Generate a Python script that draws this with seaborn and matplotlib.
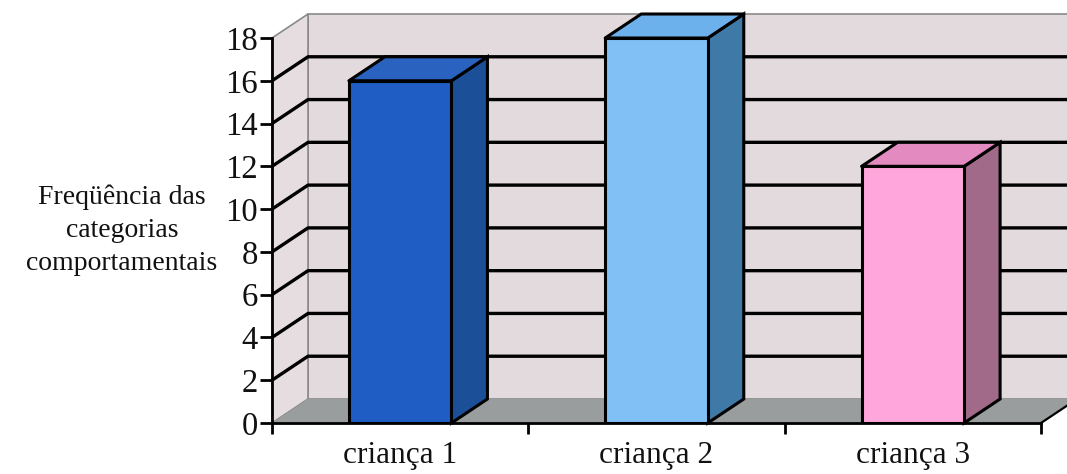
import numpy as np
import pandas as pd
import matplotlib
matplotlib.use("Agg")
import matplotlib.pyplot as plt
from matplotlib.patches import Polygon
import seaborn as sns

# Data
categories = ["criança 1", "criança 2", "criança 3"]
frequencias = [16, 18, 12]
y_ticks = [0, 2, 4, 6, 8, 10, 12, 14, 16, 18]
y_label = "Freqüência das\ncategorias\ncomportamentais"

# Bar colours: front, top, side faces
front_colors = ["#1f5cc4", "#80c0f4", "#ffa6dc"]
top_colors = ["#2a62c0", "#6cb0ec", "#e38ac0"]
side_colors = ["#1b4f98", "#3f79a8", "#a06a88"]

WALL = "#e3dadd"
SIDE_WALL = "#e6dde0"
FLOOR = "#999d9d"
DEPTH_PX = (36, 24)  # 3D depth offset in pixels

sns.set_theme(style="white")
plt.rcParams["font.family"] = ["Liberation Serif", "DejaVu Serif"]

W, H, DPI = 1067, 474, 100
fig = plt.figure(figsize=(W / DPI, H / DPI), dpi=DPI)
left_px, right_px, bottom_px, top_px = 272, 1041, 423, 38
ax = fig.add_axes([left_px / W, (H - bottom_px) / H,
                   (right_px - left_px) / W, (bottom_px - top_px) / H])
ax.set_facecolor("none")

df = pd.DataFrame({"cat": categories, "freq": frequencias})
sns.barplot(data=df, x="cat", y="freq", hue="cat", palette=front_colors,
            width=0.4, edgecolor="black", linewidth=2.2, legend=False,
            saturation=1, ax=ax, zorder=3)

ymax = y_ticks[-1]
ax.set_xlim(-0.5, len(categories) - 0.5)
ax.set_ylim(0, ymax)

# depth offset expressed in data units
x0, x1 = ax.get_xlim()
dx = DEPTH_PX[0] * (x1 - x0) / (right_px - left_px)
dy = DEPTH_PX[1] * ymax / (bottom_px - top_px)

# back wall
ax.add_patch(Polygon([(x0 + dx, dy), (x1 + dx + 1, dy), (x1 + dx + 1, ymax + dy),
                      (x0 + dx, ymax + dy)], closed=True, facecolor=WALL,
                     edgecolor="#8a8a8a", linewidth=1.2, clip_on=False, zorder=0))
# side wall
ax.add_patch(Polygon([(x0, 0), (x0, ymax), (x0 + dx, ymax + dy), (x0 + dx, dy)],
                     closed=True, facecolor=SIDE_WALL, edgecolor="#8a8a8a",
                     linewidth=1.2, clip_on=False, zorder=0))
# gridlines on both walls
for v in y_ticks[1:-1]:
    ax.plot([x0, x0 + dx, x1 + dx + 1], [v, v + dy, v + dy], color="black",
            linewidth=2.4, clip_on=False, zorder=0.5, solid_capstyle="butt")
# floor
ax.add_patch(Polygon([(x0, 0), (x1, 0), (x1 + dx, dy), (x0 + dx, dy)],
                     closed=True, facecolor=FLOOR, edgecolor="none",
                     clip_on=False, zorder=0.6))
ax.plot([x1, x1 + dx], [0, dy], color="black", linewidth=1.6,
        clip_on=False, zorder=0.7)

# 3D top and side faces of each bar
for patch, top_c, side_c in zip(ax.patches, top_colors, side_colors):
    if not hasattr(patch, "get_x") or patch.get_height() <= 0:
        continue
    bx0 = patch.get_x()
    bx1 = bx0 + patch.get_width()
    h = patch.get_height()
    ax.add_patch(Polygon([(bx1, 0), (bx1, h), (bx1 + dx, h + dy), (bx1 + dx, dy)],
                         closed=True, facecolor=side_c, edgecolor="black",
                         linewidth=2.2, clip_on=False, zorder=2.9))
    ax.add_patch(Polygon([(bx0, h), (bx1, h), (bx1 + dx, h + dy), (bx0 + dx, h + dy)],
                         closed=True, facecolor=top_c, edgecolor="black",
                         linewidth=2.2, clip_on=False, zorder=2.9, joinstyle="round"))

# axes styling
for s in ("top", "right"):
    ax.spines[s].set_visible(False)
for s in ("left", "bottom"):
    ax.spines[s].set_color("black")
    ax.spines[s].set_linewidth(2)
    ax.spines[s].set_zorder(4)

ax.set_yticks(y_ticks)
ax.set_yticklabels([str(t) for t in y_ticks])
ax.tick_params(axis="y", direction="out", length=9, width=2, color="black",
               labelsize=23.5, pad=1, left=True, labelcolor="#111111")

n = len(categories)
ax.set_xticks(np.arange(-0.5, n, 1.0))
ax.set_xticklabels([""] * (n + 1))
ax.set_xticks(np.arange(n), minor=True)
ax.set_xticklabels(categories, minor=True)
ax.tick_params(axis="x", which="major", direction="out", length=8, width=2,
               color="black", bottom=True)
ax.tick_params(axis="x", which="minor", length=0, labelsize=22.5, pad=13,
               labelcolor="#111111")
ax.set_xlabel("")
ax.set_ylabel("")
ax.grid(False)

fig.text(122 / W, (H - 230) / H, y_label, ha="center", va="center",
         multialignment="center", fontsize=20, linespacing=1.42, color="#111111")

fig.savefig("out.png", dpi=DPI, facecolor="white")
